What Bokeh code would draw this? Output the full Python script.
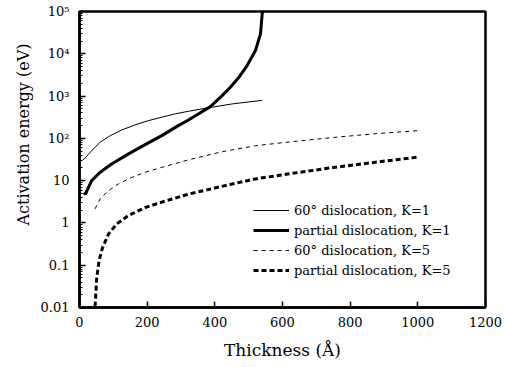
from bokeh.plotting import figure
from bokeh.models import FixedTicker, CustomJSTickFormatter, Legend, LegendItem, Title
from bokeh.embed import file_html
from bokeh.resources import INLINE

# ---- data ----
x_60_k1 = [10, 15, 36, 61, 91, 125, 164, 204, 243, 283, 322, 377, 456, 540]
y_60_k1 = [31, 33, 51, 81, 116, 158, 208, 263, 316, 380, 437, 523, 661, 790]

x_partial_k1 = [13, 18, 22, 36, 61, 96, 145, 194, 243, 292, 322, 387, 420,
                446, 470, 495, 520, 535, 540, 542]
y_partial_k1 = [5.2, 4.8, 5.8, 10, 15.8, 25, 43, 71, 116, 200, 272, 562, 1000,
                1620, 2700, 5200, 12000, 29500, 89000, 100000]

x_60_k5 = [46, 61, 86, 115, 155, 194, 243, 322, 420, 520, 620, 751, 870, 1000]
y_60_k5 = [2.15, 3.7, 5.8, 8.4, 12, 15.8, 20.6, 31, 48, 67, 82, 105, 128, 152]

x_partial_k5 = [46, 51, 58, 68, 86, 110, 145, 194, 243, 322, 420, 520, 620,
                751, 870, 1000]
y_partial_k5 = [0.0105, 0.051, 0.13, 0.26, 0.55, 0.95, 1.5, 2.3, 3.1, 4.8, 7.3,
                11, 14.5, 20.5, 27, 36]

series_labels = ["60° dislocation, K=1", "partial dislocation, K=1",
                 "60° dislocation, K=5", "partial dislocation, K=5"]

x_ticks = [0, 200, 400, 600, 800, 1000, 1200]
y_tick_values = [0.01, 0.1, 1, 10, 100, 1000, 10000, 100000]
y_tick_labels = ["0.01", "0.1", "1", "10", "10²", "10³", "10⁴", "10⁵"]

x_label = "Thickness (Å)"
y_label = "Activation energy (eV)"

# ---- figure ----
p = figure(width=505, height=367, y_axis_type="log",
           x_range=(0, 1200), y_range=(0.01, 1e5),
           output_backend="svg", toolbar_location=None,
           min_border_left=79, min_border_right=20,
           min_border_top=11, min_border_bottom=60)

p.grid.visible = False
p.outline_line_color = "black"
p.outline_line_width = 2.5
p.background_fill_color = "white"
p.border_fill_color = "white"

r1 = p.line(x_60_k1, y_60_k1, line_color="black", line_width=1)
r2 = p.line(x_partial_k1, y_partial_k1, line_color="black", line_width=3)
r3 = p.line(x_60_k5, y_60_k5, line_color="black", line_width=1, line_dash="4 4")
r4 = p.line(x_partial_k5, y_partial_k5, line_color="black", line_width=3,
            line_dash="5 3")

legend = Legend(items=[LegendItem(label=series_labels[0], renderers=[r1]),
                       LegendItem(label=series_labels[1], renderers=[r2]),
                       LegendItem(label=series_labels[2], renderers=[r3]),
                       LegendItem(label=series_labels[3], renderers=[r4])],
                location=(174, 27))
legend.padding = 0
legend.margin = 0
legend.spacing = 0
legend.glyph_width = 36
legend.glyph_height = 20
legend.label_height = 20
legend.label_standoff = 5
legend.border_line_alpha = 0
legend.background_fill_alpha = 0
legend.label_text_font = "DejaVu Serif"
legend.label_text_font_size = "13px"
legend.label_text_color = "black"
p.add_layout(legend)

# x axis
xa = p.xaxis[0]
xa.ticker = FixedTicker(ticks=x_ticks)
xa.axis_label = x_label
xa.axis_label_text_font = "DejaVu Serif"
xa.axis_label_text_font_size = "17px"
xa.axis_label_text_font_style = "normal"
xa.axis_label_text_color = "black"
xa.axis_label_standoff = 10
xa.major_label_text_font = "DejaVu Serif"
xa.major_label_text_font_size = "13px"
xa.major_label_text_color = "black"
xa.major_label_standoff = 9
xa.major_tick_in = 6
xa.major_tick_out = 0
xa.major_tick_line_width = 1.5
xa.minor_tick_line_color = None
xa.axis_line_width = 2.5

# y axis
minor = []
for e in range(-2, 5):
    for k in range(2, 10):
        minor.append(k * 10.0 ** e)
ya = p.yaxis[0]
ya.ticker = FixedTicker(ticks=y_tick_values, minor_ticks=minor)
ya.formatter = CustomJSTickFormatter(
    args=dict(vals=y_tick_values, labs=y_tick_labels),
    code="""
let best = 0, bd = Infinity;
for (let i = 0; i < vals.length; i++) {
  const d = Math.abs(Math.log10(vals[i]) - Math.log10(tick));
  if (d < bd) { bd = d; best = i; }
}
return labs[best];
""")
ya.major_label_text_font = "DejaVu Serif"
ya.major_label_text_font_size = "13px"
ya.major_label_text_color = "black"
ya.major_label_standoff = 10
ya.major_tick_in = 6
ya.major_tick_out = 0
ya.major_tick_line_width = 1.5
ya.minor_tick_in = 3
ya.minor_tick_out = 0
ya.minor_tick_line_width = 1
ya.axis_line_width = 2.5

ytitle = Title(text=y_label, align="right", offset=32,
               text_font="DejaVu Serif", text_font_size="16px",
               text_font_style="normal", text_color="black")
p.add_layout(ytitle, "left")

open("out.html", "w").write(file_html(p, INLINE))
